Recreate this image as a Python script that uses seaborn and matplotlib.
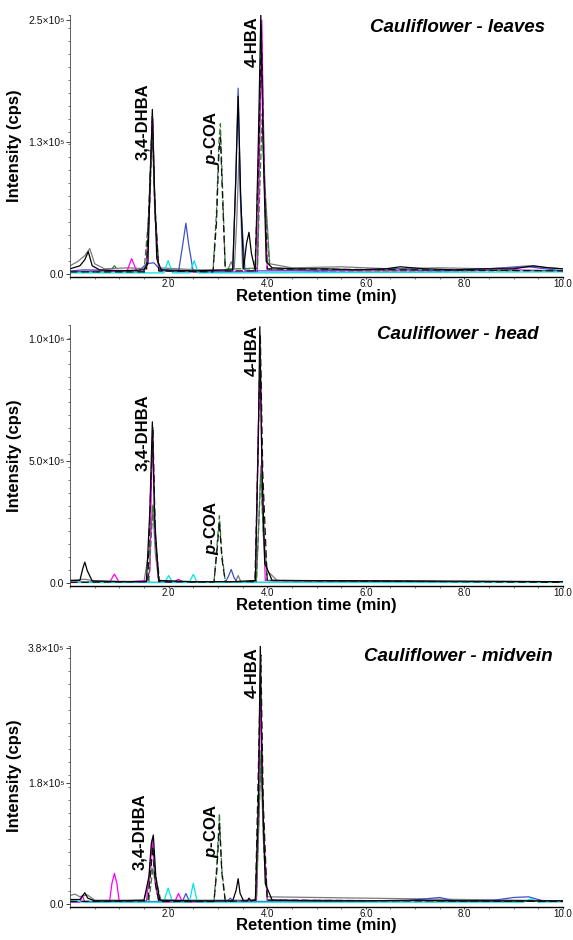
import numpy as np
import pandas as pd
import matplotlib
matplotlib.use("Agg")
import matplotlib.pyplot as plt
import seaborn as sns
from matplotlib.ticker import MultipleLocator

sns.set_style("ticks")
plt.rcParams["font.family"] = ["Liberation Sans", "DejaVu Sans"]
plt.rcParams["mathtext.fontset"] = "custom"
plt.rcParams["mathtext.it"] = "Liberation Sans:italic:bold"
plt.rcParams["mathtext.rm"] = "Liberation Sans:bold"
plt.rcParams["text.color"] = "black"
plt.rcParams["axes.labelcolor"] = "black"

UNIT = 1e5  # intensities below are in units of 1e5 cps

# ---------------- Panel 1: leaves ----------------
leaves_black_t = [0, 0.2, 0.3, 0.37, 0.45, 0.6, 1.0, 1.5, 1.58, 1.63, 1.67, 1.71, 1.76, 1.85, 2.5, 3.3, 3.36, 3.41, 3.46, 3.52, 3.58, 3.63, 3.68, 3.76, 3.82, 3.87, 3.92, 3.98, 4.1, 4.6, 5.2, 5.8, 6.4, 6.7, 7.2, 7.8, 8.4, 9.0, 9.4, 9.7, 10.0]
leaves_black_y = [0.05, 0.08, 0.14, 0.22, 0.08, 0.04, 0.03, 0.04, 0.1, 1.0, 1.62, 0.9, 0.15, 0.04, 0.03, 0.04, 0.9, 1.75, 0.8, 0.05, 0.3, 0.41, 0.2, 0.03, 1.3, 2.55, 1.2, 0.12, 0.06, 0.05, 0.05, 0.04, 0.05, 0.07, 0.05, 0.04, 0.05, 0.05, 0.08, 0.06, 0.05]
leaves_gray_t = [0, 0.15, 0.3, 0.4, 0.5, 0.7, 1.2, 1.55, 1.62, 1.67, 1.72, 1.8, 2.6, 3.2, 3.27, 3.33, 3.38, 3.43, 3.5, 3.8, 3.86, 3.9, 3.95, 4.05, 4.5, 5.5, 6.5, 7.5, 8.5, 9.3, 9.5, 10]
leaves_gray_y = [0.08, 0.12, 0.18, 0.25, 0.1, 0.05, 0.06, 0.05, 0.9, 1.4, 0.7, 0.06, 0.04, 0.04, 0.12, 0.04, 0.5, 1.2, 0.05, 0.06, 1.8, 2.0, 0.9, 0.1, 0.06, 0.07, 0.05, 0.06, 0.05, 0.08, 0.07, 0.05]
leaves_magenta_t = [0, 0.6, 1.15, 1.25, 1.35, 1.5, 1.55, 1.6, 1.65, 1.68, 1.72, 1.8, 2.2, 3.0, 3.8, 3.85, 3.89, 3.93, 4.0, 5, 6, 7, 8, 9, 10]
leaves_magenta_y = [0.02, 0.03, 0.02, 0.15, 0.03, 0.02, 0.1, 0.5, 1.3, 1.53, 0.6, 0.05, 0.02, 0.02, 0.02, 1.4, 2.5, 1.2, 0.04, 0.03, 0.03, 0.03, 0.03, 0.04, 0.03]
leaves_green_t = [0, 0.8, 0.9, 1.0, 1.5, 1.62, 1.67, 1.72, 1.8, 2.9, 2.97, 3.02, 3.05, 3.09, 3.15, 3.8, 3.86, 3.9, 3.95, 4.05, 5, 6, 7, 8, 9, 10]
leaves_green_y = [0.02, 0.02, 0.08, 0.02, 0.02, 0.7, 1.45, 0.6, 0.03, 0.03, 0.6, 1.3, 1.48, 0.9, 0.05, 0.05, 1.0, 1.58, 0.8, 0.05, 0.03, 0.03, 0.03, 0.03, 0.03, 0.03]
leaves_blue_t = [0, 0.3, 1.4, 1.55, 1.7, 1.85, 2.2, 2.29, 2.35, 2.41, 2.5, 3.3, 3.36, 3.41, 3.46, 3.55, 5, 6.6, 7.5, 9.3, 10]
leaves_blue_y = [0.03, 0.04, 0.03, 0.1, 0.11, 0.03, 0.02, 0.3, 0.5, 0.28, 0.02, 0.02, 0.9, 1.83, 0.7, 0.03, 0.03, 0.05, 0.03, 0.07, 0.03]
leaves_cyan_t = [0, 1.9, 1.99, 2.08, 2.43, 2.52, 2.6, 3.5, 10]
leaves_cyan_y = [0.01, 0.01, 0.13, 0.01, 0.01, 0.13, 0.01, 0.01, 0.02]
leaves_dash_t = [0, 1.55, 1.62, 1.67, 1.72, 1.8, 2.9, 2.97, 3.02, 3.05, 3.09, 3.15, 3.75, 3.83, 3.88, 3.93, 4.0, 10]
leaves_dash_y = [0.02, 0.02, 0.9, 1.55, 0.7, 0.03, 0.02, 0.5, 1.2, 1.35, 0.8, 0.03, 0.03, 1.2, 2.45, 1.1, 0.05, 0.03]

# ---------------- Panel 2: head ----------------
head_black_t = [0, 0.2, 0.26, 0.3, 0.35, 0.45, 1.0, 1.55, 1.62, 1.67, 1.72, 1.8, 2.5, 3.3, 3.76, 3.82, 3.85, 3.89, 3.95, 4.1, 10]
head_black_y = [0.1, 0.1, 0.6, 0.85, 0.5, 0.08, 0.05, 0.05, 3.0, 6.6, 2.5, 0.1, 0.05, 0.05, 0.1, 6.0, 10.5, 5.0, 0.8, 0.1, 0.05]
head_gray_t = [0, 0.3, 0.5, 1.5, 1.62, 1.68, 1.73, 1.8, 3.35, 3.41, 3.47, 3.78, 3.83, 3.87, 3.92, 4.0, 4.2, 10]
head_gray_y = [0.1, 0.15, 0.08, 0.05, 1.5, 3.2, 1.2, 0.05, 0.03, 0.3, 0.03, 0.05, 2.5, 4.8, 2.0, 0.5, 0.1, 0.05]
head_magenta_t = [0, 0.8, 0.9, 1.0, 1.55, 1.62, 1.65, 1.68, 1.72, 1.8, 2.1, 2.2, 2.3, 3.76, 3.82, 3.86, 3.9, 3.96, 10]
head_magenta_y = [0.02, 0.02, 0.36, 0.02, 0.1, 0.5, 4.0, 6.0, 2.0, 0.05, 0.02, 0.15, 0.02, 0.05, 6.5, 9.0, 4.0, 0.1, 0.02]
head_green_t = [0, 1.6, 1.65, 1.69, 1.74, 1.82, 2.92, 2.98, 3.03, 3.08, 3.15, 3.78, 3.83, 3.87, 3.92, 4.0, 10]
head_green_y = [0.02, 0.05, 2.0, 3.2, 1.5, 0.05, 0.03, 1.5, 2.75, 1.2, 0.05, 0.05, 2.5, 4.5, 2.0, 0.1, 0.02]
head_blue_t = [0, 3.15, 3.22, 3.27, 3.33, 3.4, 10]
head_blue_y = [0.02, 0.02, 0.3, 0.55, 0.2, 0.02, 0.03]
head_cyan_t = [0, 1.92, 2.0, 2.08, 2.42, 2.5, 2.58, 10]
head_cyan_y = [0.02, 0.02, 0.3, 0.02, 0.02, 0.35, 0.02, 0.02]
head_dash_t = [0, 1.58, 1.63, 1.68, 1.73, 1.8, 2.92, 2.98, 3.03, 3.08, 3.15, 3.75, 3.81, 3.86, 3.91, 4.0, 10]
head_dash_y = [0.02, 0.05, 3.5, 6.4, 2.0, 0.05, 0.03, 1.3, 2.5, 1.0, 0.05, 0.05, 5.0, 10.2, 4.5, 0.1, 0.02]

# ---------------- Panel 3: midvein ----------------
mid_black_t = [0, 0.2, 0.26, 0.3, 0.36, 0.5, 1.0, 1.5, 1.6, 1.65, 1.69, 1.74, 1.82, 2.5, 3.3, 3.37, 3.41, 3.45, 3.52, 3.6, 3.63, 3.67, 3.76, 3.82, 3.86, 3.9, 3.96, 4.1, 5, 6, 7, 8, 9, 10]
mid_black_y = [0.06, 0.06, 0.12, 0.16, 0.08, 0.04, 0.04, 0.05, 0.4, 0.9, 1.02, 0.4, 0.05, 0.04, 0.04, 0.2, 0.37, 0.15, 0.04, 0.04, 0.08, 0.04, 0.05, 1.5, 3.84, 1.8, 0.3, 0.05, 0.04, 0.04, 0.05, 0.04, 0.04, 0.04]
mid_gray_t = [0, 0.1, 0.2, 0.35, 0.5, 1.5, 1.6, 1.66, 1.7, 1.76, 1.85, 3.78, 3.83, 3.87, 3.92, 4.0, 10]
mid_gray_y = [0.12, 0.14, 0.1, 0.13, 0.05, 0.05, 0.3, 0.53, 0.45, 0.15, 0.05, 0.05, 1.2, 2.2, 1.0, 0.1, 0.04]
mid_magenta_t = [0, 0.2, 0.25, 0.3, 0.8, 0.85, 0.9, 0.95, 1.0, 1.55, 1.62, 1.67, 1.72, 1.8, 2.12, 2.2, 2.28, 3.78, 3.83, 3.87, 3.92, 4.0, 10]
mid_magenta_y = [0.02, 0.02, 0.12, 0.02, 0.02, 0.3, 0.45, 0.3, 0.02, 0.03, 0.5, 0.95, 0.4, 0.03, 0.02, 0.15, 0.02, 0.05, 1.8, 3.0, 1.2, 0.05, 0.03]
mid_green_t = [0, 1.6, 1.66, 1.7, 1.76, 1.85, 2.92, 2.98, 3.03, 3.08, 3.15, 3.78, 3.84, 3.88, 3.93, 4.0, 10]
mid_green_y = [0.03, 0.04, 0.4, 0.6, 0.3, 0.03, 0.03, 0.6, 1.34, 0.5, 0.03, 0.05, 1.5, 2.3, 0.8, 0.05, 0.03]
mid_blue_t = [0, 2.28, 2.35, 2.42, 3.18, 3.25, 3.32, 6.8, 7.2, 7.5, 7.8, 8.6, 9.0, 9.3, 9.6, 10]
mid_blue_y = [0.03, 0.03, 0.15, 0.03, 0.03, 0.08, 0.03, 0.04, 0.07, 0.09, 0.04, 0.05, 0.09, 0.1, 0.04, 0.04]
mid_cyan_t = [0, 0.3, 1.9, 1.99, 2.08, 2.42, 2.5, 2.58, 9.2, 9.35, 9.5, 10]
mid_cyan_y = [0.05, 0.02, 0.02, 0.23, 0.02, 0.02, 0.3, 0.02, 0.02, 0.07, 0.02, 0.03]
mid_dash_t = [0, 1.58, 1.64, 1.68, 1.73, 1.8, 2.92, 2.98, 3.03, 3.08, 3.15, 3.76, 3.82, 3.87, 3.92, 4.0, 10]
mid_dash_y = [0.03, 0.04, 0.5, 0.85, 0.3, 0.03, 0.03, 0.5, 1.2, 0.45, 0.03, 0.05, 2.0, 3.7, 1.5, 0.05, 0.03]

panel_titles = ["Cauliflower - leaves", "Cauliflower - head", "Cauliflower - midvein"]
ytick_vals = [[0, 1.3e5, 2.5e5], [0, 5.0e5, 1.0e6], [0, 1.8e5, 3.8e5]]
ytick_labels = [["0.0", "1.3×10⁵", "2.5×10⁵"], ["0.0", "5.0×10⁵", "1.0×10⁶"], ["0.0", "1.8×10⁵", "3.8×10⁵"]]
ymax = [2.55e5, 1.057e6, 3.84e5]
xtick_vals = [2, 4, 6, 8, 10]
xtick_labels = ["2.0", "4.0", "6.0", "8.0", "10.0"]

peak_names = ["3,4-DHBA", r"$\mathit{p}$-COA", "4-HBA"]
peak_label_x = [[1.48, 2.86, 3.69], [1.48, 2.86, 3.69], [1.42, 2.86, 3.69]]
peak_label_y = [[1.12e5, 1.07e5, 2.04e5], [4.6e5, 1.13e5, 8.46e5], [0.5e5, 0.68e5, 3.06e5]]

panels = [
    {"gray": (leaves_gray_t, leaves_gray_y), "magenta": (leaves_magenta_t, leaves_magenta_y),
     "green": (leaves_green_t, leaves_green_y), "blue": (leaves_blue_t, leaves_blue_y),
     "cyan": (leaves_cyan_t, leaves_cyan_y), "black": (leaves_black_t, leaves_black_y),
     "dash": (leaves_dash_t, leaves_dash_y)},
    {"gray": (head_gray_t, head_gray_y), "magenta": (head_magenta_t, head_magenta_y),
     "green": (head_green_t, head_green_y), "blue": (head_blue_t, head_blue_y),
     "cyan": (head_cyan_t, head_cyan_y), "black": (head_black_t, head_black_y),
     "dash": (head_dash_t, head_dash_y)},
    {"gray": (mid_gray_t, mid_gray_y), "magenta": (mid_magenta_t, mid_magenta_y),
     "green": (mid_green_t, mid_green_y), "blue": (mid_blue_t, mid_blue_y),
     "cyan": (mid_cyan_t, mid_cyan_y), "black": (mid_black_t, mid_black_y),
     "dash": (mid_dash_t, mid_dash_y)},
]

trace_order = ["gray", "magenta", "green", "blue", "cyan", "black", "dash"]
palette = {"gray": "#7a7a7a", "magenta": "#ff00ff", "green": "#2e7d32", "blue": "#3f51c8",
           "cyan": "#00e5e5", "black": "#000000", "dash": "#111111"}
dashes = {"gray": "", "magenta": "", "green": (5, 2), "blue": "", "cyan": "", "black": "",
          "dash": (6, 3)}

fig = plt.figure(figsize=(5.73, 9.40), dpi=100)
ax_rects = [[0.1222, 0.7053, 0.8604, 0.2787],
            [0.1222, 0.3766, 0.8604, 0.2777],
            [0.1222, 0.0355, 0.8604, 0.2777]]
title_pos = [(0.786, 0.954), (0.787, 0.962), (0.788, 0.958)]

for i, traces in enumerate(panels):
    ax = fig.add_axes(ax_rects[i])
    rows = []
    for name in trace_order:
        t, y = traces[name]
        rows.append(pd.DataFrame({"time": t, "intensity": np.array(y) * UNIT, "trace": name}))
    df = pd.concat(rows, ignore_index=True)
    sns.lineplot(data=df, x="time", y="intensity", hue="trace", style="trace",
                 hue_order=trace_order, style_order=trace_order,
                 palette=palette, dashes=dashes, estimator=None, sort=True,
                 legend=False, lw=0.9, ax=ax)
    ax.set_xlim(0, 10)
    ax.set_ylim(-0.012 * ymax[i], ymax[i])
    ax.set_xticks(xtick_vals)
    ax.set_xticklabels(xtick_labels)
    ax.set_yticks(ytick_vals[i])
    ax.set_yticklabels(ytick_labels[i])
    ax.xaxis.set_minor_locator(MultipleLocator(0.5))
    ax.yaxis.set_minor_locator(MultipleLocator(ymax[i] / 20))
    ax.tick_params(axis="both", which="major", labelsize=7.5, length=3, width=0.6,
                   pad=1, colors="#222222", labelcolor="#111111")
    ax.tick_params(axis="both", which="minor", length=1.5, width=0.5, color="#444444")
    ax.tick_params(axis="x", which="major", length=1.5, pad=0, labelsize=7)
    for s in ["top", "right"]:
        ax.spines[s].set_visible(False)
    ax.spines["left"].set_linewidth(0.6)
    ax.spines["left"].set_color("#444444")
    ax.spines["bottom"].set_linewidth(1.0)
    ax.spines["bottom"].set_color("#000000")
    ax.set_xlabel("Retention time (min)", fontsize=12, fontweight="bold", color="black")
    ax.xaxis.set_label_coords(0.5, -0.045)
    ax.set_ylabel("Intensity (cps)", fontsize=12, fontweight="bold", color="black")
    ax.yaxis.set_label_coords(-0.097, 0.5)
    ax.text(title_pos[i][0], title_pos[i][1], panel_titles[i], transform=ax.transAxes,
            fontsize=13.5, fontweight="bold", fontstyle="italic", ha="center", va="center",
            color="black")
    for j, name in enumerate(peak_names):
        ax.text(peak_label_x[i][j], peak_label_y[i][j], name, rotation=90,
                fontsize=12, fontweight="bold", ha="center", va="bottom", color="black")

fig.savefig("out.png", dpi=100)
